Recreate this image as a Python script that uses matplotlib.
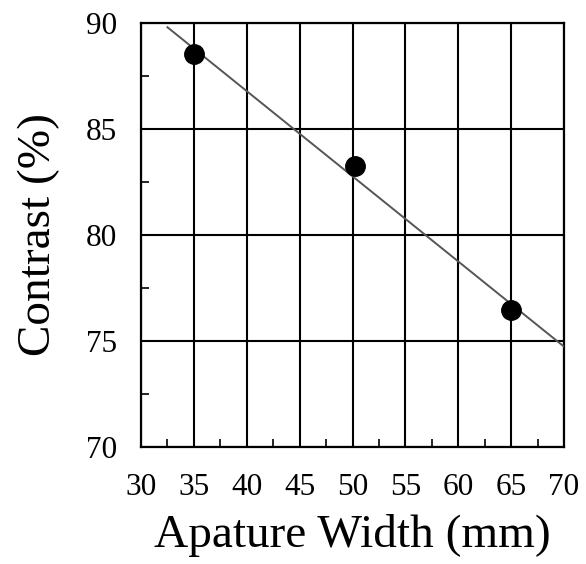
import numpy as np
import matplotlib
matplotlib.use("Agg")
import matplotlib.pyplot as plt
from matplotlib.ticker import MultipleLocator

aperture = [35, 50.2, 65]
contrast = [88.5, 83.25, 76.45]
fit_range = [32.5, 70]
xticks = [30, 35, 40, 45, 50, 55, 60, 65, 70]
yticks = [70, 75, 80, 85, 90]

plt.rcParams['font.family'] = ['Liberation Serif', 'DejaVu Serif']

fig = plt.figure(figsize=(5.86, 5.64), dpi=100)
ax = fig.add_axes([0.2406, 0.2074, 0.7219, 0.7524])

coef = np.polyfit(aperture, contrast, 1)
xf = np.array(fit_range)
ax.plot(xf, np.polyval(coef, xf), color='#555555', lw=1.4, zorder=3)
ax.plot(aperture, contrast, 'o', color='black', ms=14, zorder=4)

ax.set_xlim(30, 70)
ax.set_ylim(70, 90)
ax.set_xticks(xticks)
ax.set_yticks(yticks)
ax.xaxis.set_minor_locator(MultipleLocator(2.5))
ax.yaxis.set_minor_locator(MultipleLocator(2.5))
ax.grid(True, which='major', color='black', lw=1.5)
ax.tick_params(which='major', length=0, labelsize=22.5)
ax.tick_params(axis='x', which='major', pad=19)
ax.tick_params(axis='y', which='major', pad=17)
ax.tick_params(which='minor', direction='in', length=6, width=1.2, color='black')
ax.tick_params(axis='both', which='both', top=False, right=False)
for s in ax.spines.values():
    s.set_linewidth(1.6)

ax.set_xlabel('Apature Width (mm)', fontsize=34, labelpad=8)
ax.set_ylabel('Contrast (%)', fontsize=34, labelpad=19)

fig.savefig('out.png', dpi=100)
